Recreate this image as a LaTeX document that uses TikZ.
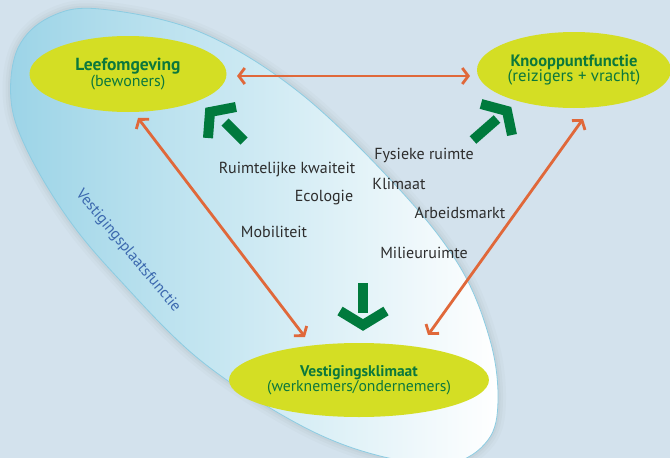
\documentclass[tikz,border=0pt]{standalone}
\usepackage{fontspec}
\setmainfont{PT Sans}
\usetikzlibrary{shapes.geometric,arrows.meta}
\definecolor{bg}{RGB}{211,226,237}
\definecolor{skyL}{RGB}{156,212,231}
\definecolor{skyM}{RGB}{212,235,244}
\definecolor{skyEdge}{RGB}{140,204,226}
\definecolor{yel}{RGB}{212,222,36}
\definecolor{dgreen}{RGB}{0,122,61}
\definecolor{tgreen}{RGB}{12,120,60}
\definecolor{orng}{RGB}{224,104,58}
\definecolor{txt}{RGB}{45,45,45}
\definecolor{blueT}{RGB}{60,105,175}
\tikzset{
  yellipse/.style={ellipse, fill=yel, inner sep=0pt, align=center, text=tgreen},
  lbl/.style={text=txt, font=\fontsize{16}{18}\selectfont, inner sep=0pt},
  oarrow/.style={draw=orng, line width=2.8pt, {Straight Barb[length=6pt,width=16pt]}-{Straight Barb[length=6pt,width=16pt]}},
  garrow/.style={draw=dgreen, line width=10pt, miter limit=10, line join=miter},
  egg/.style={},
}
\def\eggpath{plot[smooth cycle, tension=0.6] coordinates {(100,9) (200,32) (300,93) (400,190) (460,267) (490,340) (498,400) (488,440) (450,463) (380,456) (300,425) (200,360) (117,277) (67,217) (27,150) (11,100) (18,48) (50,17)}}
\begin{document}
\begin{tikzpicture}[x=1pt,y=-1pt]
\useasboundingbox (0,0) rectangle (670,458);
\fill[bg] (0,0) rectangle (670,458);
\begin{scope}
\clip (0,0) rectangle (670,458);
\foreach \w/\o in {16/0.04,10/0.05,5/0.06}
  \draw[line width=\w pt, draw=black!45!bg, opacity=\o] \eggpath;
\shade[left color=skyL, middle color=skyM, right color=white] \eggpath;
\draw[skyEdge, line width=0.8pt] \eggpath;
\end{scope}

% rotated label
\node[text=blueT, font=\fontsize{15.5}{17}\selectfont, rotate=-50, inner sep=0pt] (vpf) at (128,251) {Vestigingsplaatsfunctie};

% yellow ellipses
\node[yellipse, minimum width=197pt, minimum height=76pt] (leef) at (128,74)
  {{\fontsize{17.5}{20}\selectfont\bfseries Leefomgeving}\\[-1pt]{\fontsize{16}{18}\selectfont (bewoners)}};
\node[yellipse, minimum width=194pt, minimum height=76pt] (knoop) at (574,70)
  {{\fontsize{16.5}{20}\selectfont\bfseries Knooppuntfunctie}\\[-1pt]{\fontsize{16.8}{18}\selectfont (reizigers + vracht)}};
\node[yellipse, minimum width=198pt, minimum height=74pt] (vest) at (359,380)
  {{\fontsize{15.5}{20}\selectfont\bfseries Vestigingsklimaat}\\[-1pt]{\fontsize{15.7}{18}\selectfont (werknemers/ondernemers)}};

% orange arrows
\coordinate (h1) at (237,76);
\coordinate (h2) at (470,76);
\coordinate (l1) at (138,118);
\coordinate (l2) at (305,337);
\coordinate (r1) at (583,119);
\coordinate (r2) at (428,335);
\draw[oarrow] (h1) -- (h2);
\draw[oarrow] (l1) -- (l2);
\draw[oarrow] (r1) -- (r2);

% green arrows
\coordinate (g1v) at (210,112);
\draw[garrow] (208,138) -- (g1v) -- (236,107);
\draw[garrow] (225,122) -- (244,141);
\coordinate (g2v) at (507,111);
\draw[garrow] (481,104) -- (g2v) -- (512,135);
\draw[garrow] (497,119) -- (473,140);
\coordinate (g3v) at (363,325);
\draw[garrow] (340,311) -- (g3v) -- (386,311);
\draw[garrow] (363,283) -- (363,313);

% labels
\node[lbl] (rk) at (287,170) {Ruimtelijke kwaiteit};
\node[lbl] (eco) at (324,198) {Ecologie};
\node[lbl] (mob) at (274,232) {Mobiliteit};
\node[lbl] (fys) at (424,155) {Fysieke ruimte};
\node[lbl] (kli) at (399,184) {Klimaat};
\node[lbl] (arb) at (460,213) {Arbeidsmarkt};
\node[lbl] (mil) at (424,253) {Milieuruimte};
\end{tikzpicture}
\end{document}
